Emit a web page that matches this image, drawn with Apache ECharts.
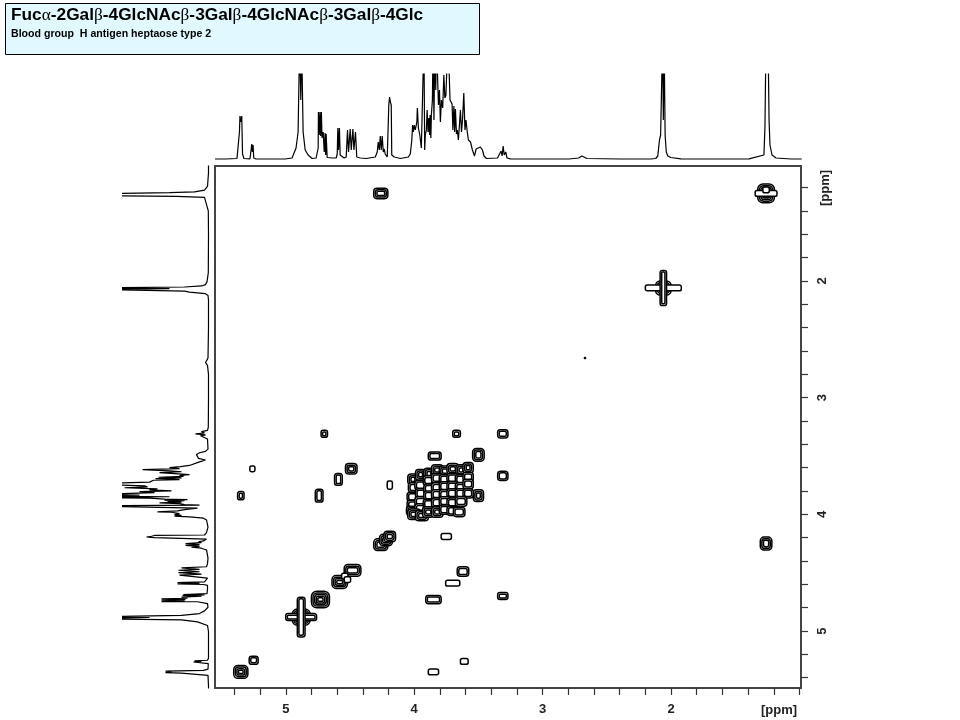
<!DOCTYPE html>
<html><head><meta charset="utf-8">
<style>html,body{margin:0;padding:0;background:#fff}#c{width:960px;height:720px}</style>
<script src="https://cdn.jsdelivr.net/npm/echarts@6/dist/echarts.min.js"></script>
</head><body><div id="c"></div>
<script>
const titleParts = ["Fuc","α","-2Gal","β","-4GlcNAc","β","-3Gal","β","-4GlcNAc","β","-3Gal","β","-4Glc"];
const subtitle = "Blood group  H antigen heptaose type 2";
const tickValues = [1,1.2,1.4,1.6,1.8,2,2.2,2.4,2.6,2.8,3,3.2,3.4,3.6,3.8,4,4.2,4.4,4.6,4.8,5,5.2,5.4];
const labelValues = [2,3,4,5];
const unitLabel = "[ppm]";

// 1H spectrum: chemical shift (ppm) and clipped-scale intensity
const specPpm = [5.551,5.473,5.380,5.369,5.361,5.357,5.349,5.343,5.337,5.326,5.279,5.271,5.265,5.260,5.255,5.250,5.232,5.006,4.952,4.921,4.905,4.893,4.884,4.878,4.866,4.850,4.827,4.796,4.765,4.749,4.747,4.741,4.735,4.730,4.724,4.719,4.710,4.702,4.695,4.691,4.687,4.679,4.640,4.609,4.601,4.596,4.591,4.584,4.578,4.547,4.531,4.521,4.513,4.500,4.492,4.479,4.471,4.459,4.449,4.422,4.375,4.305,4.290,4.282,4.274,4.266,4.259,4.251,4.243,4.235,4.228,4.212,4.204,4.200,4.194,4.188,4.181,4.177,4.157,4.110,4.048,4.033,4.021,4.015,4.009,4.002,3.994,3.982,3.978,3.970,3.959,3.947,3.935,3.927,3.921,3.916,3.908,3.902,3.895,3.889,3.883,3.879,3.873,3.869,3.861,3.856,3.849,3.842,3.835,3.830,3.822,3.814,3.806,3.799,3.791,3.781,3.772,3.764,3.756,3.749,3.739,3.731,3.724,3.717,3.708,3.702,3.694,3.688,3.682,3.674,3.667,3.659,3.651,3.643,3.635,3.627,3.617,3.608,3.600,3.591,3.581,3.565,3.550,3.534,3.527,3.521,3.511,3.488,3.472,3.460,3.441,3.355,3.340,3.327,3.319,3.311,3.303,3.291,3.281,3.254,3.000,2.800,2.724,2.700,2.660,2.400,2.164,2.125,2.109,2.096,2.087,2.072,2.066,2.060,2.052,2.043,2.031,2.008,1.930,1.600,1.400,1.284,1.276,1.268,1.260,1.252,1.244,1.237,1.221,1.190,1.073,0.990];
const specInt = [1,1,1.5,2,28,44,38,44,6,1.5,1.2,3,16,8,15,2,1,1,2,12,28,120,60,120,28,10,5,1.5,2,12,48,25,48,24,48,22,28,8,27,5,26,2.5,2,2,6,32,10,32,5,2,3,30,8,31,10,31,10,28,3,2,1.5,3,8,18,10,24,10,24,8,11,6,3,5,55,63,58,55,5,3,1.5,3,6,20,35,28,35,30,38,52,32,25,12,10,120,10,25,30,50,28,42,25,45,22,45,60,120,40,120,70,120,120,55,70,38,60,52,85,62,65,90,120,120,60,60,56,30,54,28,51,26,30,20,35,50,28,40,67,30,40,29,20,18,10,4,3,11,13,13,10,4,1.5,2,3,9,4,14,5,8,2,1.2,1,1,2,4,1.5,1,1,1.5,4,20,25,120,40,120,25,8,4,2.5,1.2,1,1.2,5,33,120,100,120,40,15,5,2,1,1];

// COSY contours: centre F2, centre F1, extent F2, extent F1 (all ppm)
const peakF2 = [5.35,5.25,5.35,5.26,4.26,1.26,1.26,1.26,1.26,1.26,2.06,2.06,2.06,4.70,3.67,3.31,4.49,4.59,4.74,4.19,3.84,3.50,3.31,3.50,3.75,3.62,3.70,3.85,3.31,3.85,3.61,4.73,4.88,4.88,4.88,4.58,4.48,4.54,4.52,4.26,4.22,4.19,
  4.01,3.95,3.885,3.82,3.76,3.70,3.635,3.58,
  4.00,3.95,3.89,3.82,3.76,3.70,3.635,3.58,
  4.01,3.95,3.885,3.82,3.76,3.70,3.635,3.58,
  4.01,3.95,3.885,3.82,3.76,3.70,3.635,3.58,
  4.01,3.95,3.885,3.82,3.76,3.70,3.635,
  4.00,3.94,3.89,3.82,3.76,3.70,3.65,2.67];
const peakF1 = [5.35,5.25,3.84,3.61,1.25,1.25,1.25,1.25,4.25,1.22,2.06,2.06,2.06,3.31,3.31,3.31,3.61,3.70,3.84,3.75,3.50,3.49,3.67,3.84,4.19,4.49,4.59,4.73,4.70,5.35,5.26,4.73,4.88,4.88,4.88,4.58,4.48,4.53,4.56,4.26,4.22,4.19,
  3.70,3.66,3.65,3.62,3.63,3.61,3.62,3.60,
  3.77,3.75,3.71,3.69,3.70,3.69,3.70,3.68,
  3.85,3.82,3.78,3.77,3.76,3.76,3.77,3.74,
  3.92,3.89,3.84,3.83,3.83,3.82,3.82,3.82,
  3.97,3.95,3.91,3.90,3.89,3.90,3.89,
  4.00,4.01,3.98,3.98,3.96,3.97,3.98,2.66];
const peakW = [.11,.07,.05,.04,.11,.13,.06,.17,.09,.05,.12,.28,.05,.05,.06,.08,.09,.06,.06,.04,.1,.09,.08,.08,.08,.09,.11,.12,.08,.08,.06,.14,.14,.24,.06,.12,.13,.05,.05,.11,.1,.09,
  .08,.08,.08,.09,.09,.09,.08,.08,
  .09,.09,.08,.09,.09,.09,.09,.08,
  .09,.08,.08,.09,.09,.09,.09,.08,
  .09,.09,.08,.09,.09,.09,.09,.08,
  .1,.09,.09,.09,.09,.09,.09,
  .1,.1,.09,.09,.09,.09,.09,.008];
const peakH = [.11,.07,.07,.05,.09,.16,.06,.05,.11,.05,.12,.05,.3,.06,.06,.07,.09,.1,.11,.07,.07,.11,.08,.1,.05,.08,.05,.07,.06,.05,.05,.14,.14,.06,.34,.11,.1,.05,.05,.1,.1,.09,
  .09,.09,.09,.09,.09,.09,.09,.09,
  .08,.08,.08,.08,.08,.08,.08,.08,
  .08,.08,.08,.08,.08,.08,.08,.08,
  .08,.08,.08,.08,.08,.08,.08,.08,
  .08,.08,.08,.08,.08,.08,.08,
  .09,.09,.09,.09,.08,.08,.08,.008];

const contourData = peakF2.map((f,i)=>[f,peakF1[i],peakW[i],peakH[i]]);
const topLine = specPpm.map((p,i)=>[p,specInt[i]]);
const leftLine = specPpm.map((p,i)=>[specInt[i],p]);

function renderContour(params, api){
  const c = api.coord([api.value(0), api.value(1)]);
  const s = api.size([api.value(2), api.value(3)]);
  const w = Math.abs(s[0]), h = Math.abs(s[1]);
  const children = [];
  const minSide = Math.min(w,h);
  const levels = Math.max(1, Math.floor(minSide/3.2));
  for(let k=0;k<levels;k++){
    const ww = w-k*3.2, hh = h-k*3.2;
    if(ww<=0||hh<=0) break;
    children.push({type:'rect',
      shape:{x:c[0]-ww/2,y:c[1]-hh/2,width:ww,height:hh,r:Math.min(ww,hh)*0.32},
      style:{fill:k===0?'#fff':'none',stroke:'#000',lineWidth:1.5}});
  }
  return {type:'group',children};
}

const RANGE_X = [0.988,5.551], RANGE_Y = [1.015,5.488];
const tickColor = '#333';
const chart = echarts.init(document.getElementById('c'));
chart.setOption({
  animation:false,
  backgroundColor:'#fff',
  title:{
    left:11, top:7, padding:0, itemGap:5,
    text:titleParts.map((t,i)=>i%2?`{g|${t}}`:`{b|${t}}`).join(''),
    textStyle:{rich:{
      b:{fontFamily:'Liberation Sans',fontWeight:'bold',fontSize:17.3,color:'#000'},
      g:{fontFamily:'Liberation Serif',fontWeight:'normal',fontSize:17.3,color:'#000'}}},
    subtext:subtitle,
    subtextStyle:{fontFamily:'Liberation Sans',fontWeight:'bold',fontSize:10.6,color:'#000'}
  },
  graphic:[
    {type:'rect',z:-1,zlevel:0,shape:{x:5.5,y:3.5,width:474,height:51},style:{fill:'#e1f9fe',stroke:'#000',lineWidth:1}},
    {type:'text',x:779,y:710,style:{text:unitLabel,fontFamily:'Liberation Sans',fontWeight:'bold',fontSize:13,fill:'#222',align:'center',verticalAlign:'middle'}},
    {type:'text',x:825,y:188,rotation:Math.PI/2,style:{text:unitLabel,fontFamily:'Liberation Sans',fontWeight:'bold',fontSize:13,fill:'#222',align:'center',verticalAlign:'middle'}}
  ],
  grid:[
    {left:215,top:166,width:586,height:522,show:true,borderColor:'#444',borderWidth:2,backgroundColor:'transparent'},
    {left:215,top:74,width:587,height:86},
    {left:123.5,top:166,width:86,height:522}
  ],
  xAxis:[
    {gridIndex:0,type:'value',inverse:true,min:RANGE_X[0],max:RANGE_X[1],position:'bottom',
     axisLine:{show:false},splitLine:{show:false},
     axisTick:{show:true,length:7,inside:false,customValues:tickValues,lineStyle:{color:tickColor,width:1.2}},
     axisLabel:{customValues:labelValues,margin:15,fontFamily:'Liberation Sans',fontWeight:'bold',fontSize:13,color:'#222',formatter:v=>String(v)}},
    {gridIndex:1,type:'value',inverse:true,min:RANGE_X[0],max:RANGE_X[1],show:false},
    {gridIndex:2,type:'value',inverse:true,min:0,max:86,show:false}
  ],
  yAxis:[
    {gridIndex:0,type:'value',inverse:true,min:RANGE_Y[0],max:RANGE_Y[1],position:'right',
     axisLine:{show:false},splitLine:{show:false},
     axisTick:{show:true,length:7,inside:false,customValues:tickValues,lineStyle:{color:tickColor,width:1.2}},
     axisLabel:{customValues:labelValues,rotate:90,margin:15,fontFamily:'Liberation Sans',fontWeight:'bold',fontSize:13,color:'#222',formatter:v=>String(v)}},
    {gridIndex:1,type:'value',min:0,max:86,show:false},
    {gridIndex:2,type:'value',inverse:true,min:RANGE_Y[0],max:RANGE_Y[1],show:false}
  ],
  series:[
    {type:'custom',xAxisIndex:0,yAxisIndex:0,data:contourData,renderItem:renderContour,clip:true,silent:true,encode:{x:0,y:1}},
    {type:'line',xAxisIndex:1,yAxisIndex:1,data:topLine,showSymbol:false,symbol:'none',lineStyle:{color:'#000',width:1.2},silent:true,sampling:undefined},
    {type:'line',xAxisIndex:2,yAxisIndex:2,data:leftLine,showSymbol:false,symbol:'none',lineStyle:{color:'#000',width:1.2},silent:true}
  ]
});
</script></body></html>
